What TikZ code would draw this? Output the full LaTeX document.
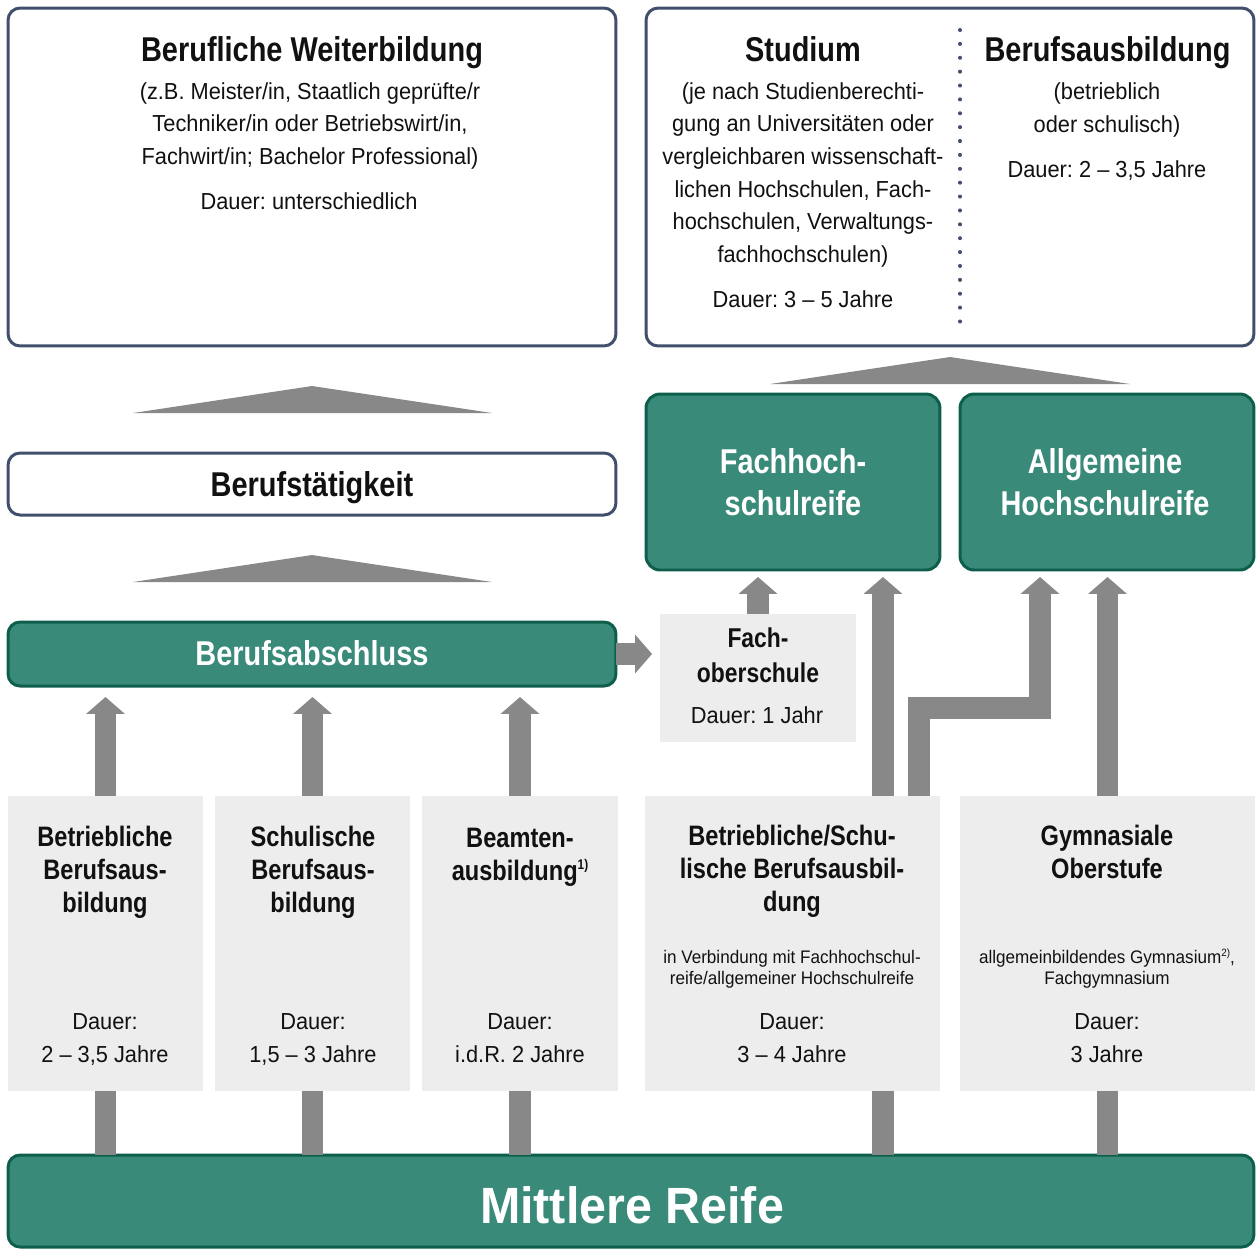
\documentclass[tikz,border=0pt]{standalone}
\usepackage{fontspec}
\setmainfont{Liberation Sans}[FakeStretch=0.94]
\newfontfamily\bff{Liberation Sans Bold}[FakeStretch=0.84]
\newfontfamily\mrff{Liberation Sans Bold}[FakeStretch=0.95]
\usetikzlibrary{arrows.meta}
\definecolor{slate}{HTML}{414F6D}
\definecolor{gfill}{HTML}{3A8A7A}
\definecolor{gborder}{HTML}{0E5E4C}
\definecolor{lgray}{HTML}{EDEDED}
\definecolor{agray}{HTML}{888888}
\definecolor{ink}{HTML}{111111}
\newcommand\fsz[2]{\fontsize{#1}{#2}\selectfont}
\newcommand\fnmark[2]{\raisebox{#2}{\fsz{#1}{#1}\smash{\mbox{}}}}
\newcommand\supmark[3]{\raisebox{#2}{\fsz{#1}{#1}#3}}
\frenchspacing
\begin{document}
\begin{tikzpicture}[x=0.02cm, y=-0.02cm,
  every node/.style={inner sep=0pt, outer sep=0pt},
  tbox/.style={draw=slate, line width=1.7pt, rounded corners=6.8pt, fill=white},
  gbox/.style={draw=gborder, line width=1.7pt, rounded corners=6.8pt, fill=gfill},
  lbox/.style={fill=lgray},
  txt/.style={anchor=base, align=center, text=ink},
  hd/.style={txt, font=\bff\fsz{19.6pt}{23.8pt}},
  bd/.style={txt, font=\fsz{13.2pt}{18.5pt}},
  lb/.style={txt, font=\bff\fsz{16pt}{18.7pt}},
  ld/.style={txt, font=\fsz{13.2pt}{18.7pt}},
  sm/.style={txt, font=\fsz{10.35pt}{11.9pt}},
  wh/.style={text=white},
  arr/.style={draw=agray, line width=12.47pt, line join=miter, -{Triangle[width=21.5pt,length=9.6pt]}},
  bar/.style={draw=agray, line width=12.47pt},
  tri/.style={fill=agray},
  dotline/.style={draw=slate, line width=2.3pt, line cap=round, dash pattern=on 0pt off 7.9pt}
]
\useasboundingbox (0,0) rectangle (1258,1249);

% ---------- boxes ----------
\node[tbox, minimum width=12.16cm, minimum height=6.76cm] (wb) at (312,177) {};
\node[tbox, minimum width=12.16cm, minimum height=6.76cm] (st) at (950,177) {};
\node[tbox, minimum width=12.16cm, minimum height=1.24cm] (bt) at (312,484) {};
\node[gbox, minimum width=12.16cm, minimum height=1.28cm] (ba) at (312,654) {};
\node[gbox, rounded corners=8pt, minimum width=5.88cm, minimum height=3.52cm] (fhr) at (793,482) {};
\node[gbox, rounded corners=8pt, minimum width=5.88cm, minimum height=3.52cm] (ahr) at (1107,482) {};
\node[lbox, minimum width=3.92cm, minimum height=2.56cm] (fos) at (758,678) {};
\node[lbox, minimum width=3.9cm, minimum height=5.9cm] (b1) at (105.5,943.5) {};
\node[lbox, minimum width=3.9cm, minimum height=5.9cm] (b2) at (312.5,943.5) {};
\node[lbox, minimum width=3.92cm, minimum height=5.9cm] (b3) at (520,943.5) {};
\node[lbox, minimum width=5.9cm, minimum height=5.9cm] (b4) at (792.5,943.5) {};
\node[lbox, minimum width=5.9cm, minimum height=5.9cm] (b5) at (1107.5,943.5) {};
\node[gbox, minimum width=24.92cm, minimum height=1.84cm] (mr) at (631,1201) {};

% ---------- dotted divider ----------
\coordinate (d1) at (960,30);
\coordinate (d2) at (960,322);
\draw[dotline] (d1) -- (d2);

% ---------- triangles ----------
\fill[tri] (133,413) -- (312,386) -- (492,413) -- cycle;
\fill[tri] (133,582) -- (312,555) -- (492,582) -- cycle;
\fill[tri] (770,384) -- (950,357) -- (1130,384) -- cycle;

% ---------- arrows ----------
\draw[arr, shorten >=0.22cm] (b1.north) -- (b1.north |- ba.south);
\draw[arr, shorten >=0.22cm] (b2.north) -- (b2.north |- ba.south);
\draw[arr, shorten >=0.22cm] (b3.north) -- (b3.north |- ba.south);
\draw[arr, shorten >=0.16cm] (ba.east) -- (ba.east -| fos.west);
\draw[arr, shorten >=0.14cm] (fos.north) -- (fos.north |- fhr.south);
\coordinate (s4) at ([xshift=1.81cm]b4.north);
\draw[arr, shorten >=0.14cm] (s4) -- (s4 |- fhr.south);
\coordinate (s5) at ([xshift=2.53cm]b4.north);
\coordinate (bend) at (1040,708);
\draw[arr, shorten >=0.14cm] (s5) |- (bend) -- (bend |- ahr.south);
\draw[arr, shorten >=0.14cm] (b5.north) -- (b5.north |- ahr.south);

% ---------- bars to Mittlere Reife ----------
\draw[bar] (b1.south) -- (b1.south |- mr.north);
\draw[bar] (b2.south) -- (b2.south |- mr.north);
\draw[bar] (b3.south) -- (b3.south |- mr.north);
\coordinate (m4) at ([xshift=1.81cm]b4.south);
\draw[bar] (m4) -- (m4 |- mr.north);
\draw[bar] (b5.south) -- (b5.south |- mr.north);

% ---------- texts (base = baseline of last line) ----------
\node[hd] (wbh) at (312,61) {Berufliche Weiterbildung};
\node[bd] (wbt) at (310,164) {(z.B. Meister/in, Staatlich geprüfte/r\\Techniker/in oder Betriebswirt/in,\\Fachwirt/in; Bachelor Professional)};
\node[bd] (wbd) at (309,209) {Dauer: unterschiedlich};

\node[hd] (sth) at (803,61) {Studium};
\node[bd] (stt) at (803,262) {(je nach Studienberechti-\\gung an Universitäten oder\\vergleichbaren wissenschaft-\\lichen Hochschulen, Fach-\\hochschulen, Verwaltungs-\\fachhochschulen)};
\node[bd] (std) at (803,307) {Dauer: 3 – 5 Jahre};

\node[hd] (bah) at (1107.5,61) {Berufsausbildung};
\node[bd] (bat) at (1107,132) {(betrieblich\\oder schulisch)};
\node[bd] (bad) at (1107,177) {Dauer: 2 – 3,5 Jahre};

\node[hd] (btt) at (312,496) {Berufstätigkeit};
\node[hd, wh] (bat2) at (312,665) {Berufsabschluss};

\node[hd, wh] (fhrt) at (793,515) {Fachhoch-\\schulreife};
\node[hd, wh] (ahrt) at (1105,515) {Allgemeine\\Hochschulreife};

\node[lb, font=\bff\fsz{15.5pt}{19.8pt}] (fost) at (758,682) {Fach-\\oberschule};
\node[ld] (fosd) at (757,723) {Dauer: 1 Jahr};

\node[lb] (b1t) at (105,912) {Betriebliche\\Berufsaus-\\bildung};
\node[ld] (b1d) at (105,1062) {Dauer:\\2 – 3,5 Jahre};

\node[lb] (b2t) at (313,912) {Schulische\\Berufsaus-\\bildung};
\node[ld] (b2d) at (313,1062) {Dauer:\\1,5 – 3 Jahre};

\node[lb] (b3t) at (520,880) {Beamten-\\ausbildung\supmark{8pt}{6pt}{1)}};
\node[ld] (b3d) at (520,1062) {Dauer:\\i.d.R. 2 Jahre};

\node[lb] (b4t) at (792,911) {Betriebliche/Schu-\\lische Berufsausbil-\\dung};
\node[sm] (b4s) at (792,984) {in Verbindung mit Fachhochschul-\\reife/allgemeiner Hochschulreife};
\node[ld] (b4d) at (792,1062) {Dauer:\\3 – 4 Jahre};

\node[lb] (b5t) at (1107,878) {Gymnasiale\\Oberstufe};
\node[sm] (b5s) at (1107,984) {allgemeinbildendes Gymnasium\supmark{6pt}{4pt}{2)},\\Fachgymnasium};
\node[ld] (b5d) at (1107,1062) {Dauer:\\3 Jahre};

\node[txt, wh, font=\mrff\fsz{29pt}{34pt}] (mrt) at (632,1223) {Mittlere Reife};
\end{tikzpicture}
\end{document}
